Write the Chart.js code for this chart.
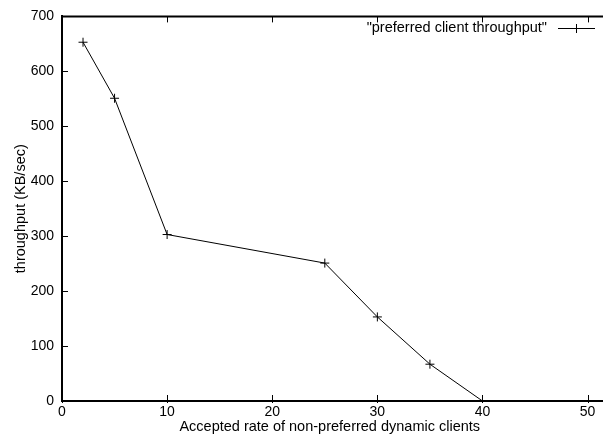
<!DOCTYPE html>
<html>
<head>
<meta charset="utf-8">
<script src="https://cdn.jsdelivr.net/npm/chart.js@4"></script>
<style>
  html, body { margin: 0; padding: 0; background: #fff; }
  #wrap { width: 603px; height: 436px; }
</style>
</head>
<body>
<div id="wrap"><canvas id="main"></canvas></div>
<script>
// valeurs
const acceptedRate = [2, 5, 10, 25, 30, 35, 40];
const throughput = [653, 551, 303, 251, 153, 67, 0];
const xTicks = [0, 10, 20, 30, 40, 50];
const yTicks = [0, 100, 200, 300, 400, 500, 600, 700];
const seriesLabel = '"preferred client throughput"';

const fontFamily = '"Liberation Sans", Arial, Helvetica, sans-serif';

// ticks vers l'intérieur + bordure du haut, façon gnuplot
const gnuplotFrame = {
    id: 'gnuplotFrame',
    afterDraw(chart) {
        const ctx = chart.ctx;
        const area = chart.chartArea;
        const xs = chart.scales.x;
        const ys = chart.scales.y;
        ctx.save();
        ctx.strokeStyle = '#000';
        ctx.lineWidth = 2;
        ctx.beginPath();
        ctx.moveTo(area.left, area.top);
        ctx.lineTo(chart.width, area.top);
        ctx.moveTo(area.right, area.bottom);
        ctx.lineTo(chart.width, area.bottom);
        ctx.stroke();
        ctx.lineWidth = 1;
        ctx.beginPath();
        yTicks.forEach(v => {
            const y = Math.round(ys.getPixelForValue(v)) + 0.5;
            ctx.moveTo(area.left, y);
            ctx.lineTo(area.left + 6, y);
        });
        xTicks.forEach(v => {
            const x = Math.round(xs.getPixelForValue(v)) + 0.5;
            ctx.moveTo(x, area.bottom + 2);
            ctx.lineTo(x, area.bottom - 6);
            ctx.moveTo(x, area.top);
            ctx.lineTo(x, area.top + 6);
        });
        ctx.stroke();

        // légende : texte aligné à droite puis échantillon de ligne
        const ly = 28;
        ctx.font = '14.5px ' + fontFamily;
        ctx.fillStyle = '#000';
        ctx.textAlign = 'right';
        ctx.textBaseline = 'middle';
        ctx.fillText(chart.data.datasets[0].label, 547, ly);
        ctx.beginPath();
        ctx.moveTo(558, ly + 0.5);
        ctx.lineTo(595, ly + 0.5);
        ctx.moveTo(576.5, ly - 4);
        ctx.lineTo(576.5, ly + 5);
        ctx.stroke();
        ctx.restore();
    }
};

new Chart(document.getElementById('main').getContext('2d'), {
    type: 'line',
    data: {
        datasets: [{
            label: seriesLabel,
            data: acceptedRate.map((x, i) => ({ x: x, y: throughput[i] })),
            borderColor: '#000',
            borderWidth: 1,
            pointStyle: 'cross',
            pointRadius: 4.5,
            pointBorderWidth: 1,
            pointBorderColor: '#000',
            fill: false,
            tension: 0
        }]
    },
    options: {
        responsive: true,
        maintainAspectRatio: false,
        animation: false,
        layout: { padding: { top: 16, right: 0, left: 0, bottom: 0 } },
        plugins: { legend: { display: false }, tooltip: { enabled: false } },
        scales: {
            x: {
                type: 'linear',
                min: 0,
                max: 50.94,
                afterBuildTicks: scale => { scale.ticks = xTicks.map(v => ({ value: v })); },
                afterFit: scale => { scale.height = 35; },
                grid: { display: false, drawTicks: false },
                border: { display: true, color: '#000', width: 2 },
                ticks: { color: '#000', font: { family: fontFamily, size: 14 }, padding: 3, maxRotation: 0 },
                title: {
                    display: true,
                    text: 'Accepted rate of non-preferred dynamic clients',
                    color: '#000',
                    font: { family: fontFamily, size: 14.5 },
                    padding: 0
                }
            },
            y: {
                min: 0,
                max: 700,
                afterBuildTicks: scale => { scale.ticks = yTicks.map(v => ({ value: v })); },
                afterFit: scale => { scale.width = 62; },
                grid: { display: false, drawTicks: false },
                border: { display: true, color: '#000', width: 2 },
                ticks: { color: '#000', font: { family: fontFamily, size: 14 }, padding: 8 },
                title: {
                    display: true,
                    text: 'throughput (KB/sec)',
                    color: '#000',
                    font: { family: fontFamily, size: 14.5 },
                    padding: { top: 12, bottom: 0 }
                }
            }
        }
    },
    plugins: [gnuplotFrame]
});
</script>
</body>
</html>
